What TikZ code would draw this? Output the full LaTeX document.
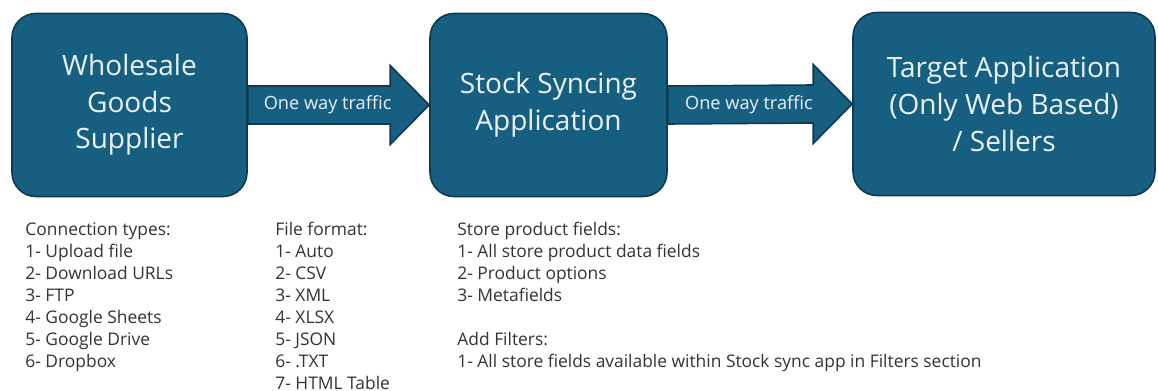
\documentclass[tikz,border=0pt]{standalone}
\usepackage{fontspec}
\setmainfont{Open Sans}
\usepackage{xcolor}
\usepackage{tikz}
\usetikzlibrary{calc}

\definecolor{boxblue}{RGB}{22,95,128}
\definecolor{boxline}{RGB}{14,58,82}
\definecolor{boxtext}{RGB}{234,241,245}
\definecolor{listtext}{RGB}{51,51,51}

\begin{document}
\begin{tikzpicture}[x=0.5pt, y=-0.5pt,
  stage/.style={draw=boxline, line width=0.8pt, fill=boxblue, rounded corners=12pt,
    minimum height=91.5pt, text=boxtext, align=center, font=\fontsize{14}{18.3}\selectfont},
  flow/.style={draw=boxline, line width=0.8pt, fill=boxblue},
  flowlabel/.style={text=boxtext, font=\fontsize{9.1}{11}\selectfont},
  notes/.style={anchor=north west, inner sep=0pt, align=left, text=listtext,
    font=\fontsize{8.7}{11}\selectfont}]
  \useasboundingbox (0,0) rectangle (1158,391);

  \node[stage, minimum width=117.5pt] (supplier) at (129.5,105) {Wholesale\\Goods\\Supplier};
  \node[stage, minimum width=118.5pt] (sync) at (548.5,105) {Stock Syncing\\Application};
  \node[stage, minimum width=151pt] (target) at (1004,104) {Target Application\\(Only Web Based)\\/ Sellers};

  % block arrows
  \draw[flow] ($(supplier.east)+(0,-19)$) -- ($(sync.west)+(-39,-19)$) -- ++(0,-20.5)
    -- (sync.west) -- ($(sync.west)+(-39,39.5)$) -- ++(0,-20.5) -- ($(supplier.east)+(0,19)$) -- cycle;
  \draw[flow] ($(sync.east)+(0,-19)$) -- ($(target.west)+(-39,-19)$) -- ++(0,-20.5)
    -- (target.west) -- ($(target.west)+(-39,39.5)$) -- ++(0,-20.5) -- ($(sync.east)+(0,19)$) -- cycle;
  \node[flowlabel] (trafficA) at ($(supplier.east)!0.44!(sync.west)$) {One way traffic};
  \node[flowlabel] (trafficB) at ($(sync.east)!0.44!(target.west)$) {One way traffic};

  \node[notes] (connections) at (25,222) {Connection types:\\1- Upload file\\2- Download URLs\\3- FTP\\4- Google Sheets\\5- Google Drive\\6- Dropbox};
  \node[notes] (formats) at (275,222) {File format:\\1- Auto\\2- CSV\\3- XML\\4- XLSX\\5- JSON\\6- .TXT\\7- HTML Table};
  \node[notes] (fields) at (457,222) {Store product fields:\\1- All store product data fields\\2- Product options\\3- Metafields\\[11pt]Add Filters:\\1- All store fields available within Stock sync app in Filters section};
\end{tikzpicture}
\end{document}
